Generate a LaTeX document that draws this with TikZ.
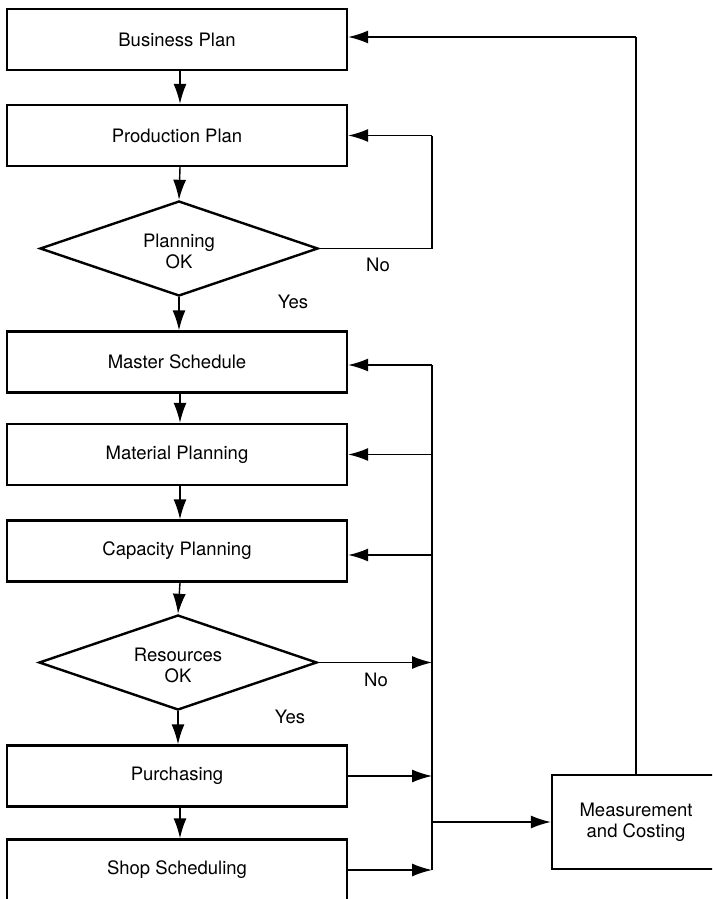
\documentclass[tikz,border=0pt]{standalone}
\usepackage{fontspec}
\setmainfont{TeX Gyre Heros}
\usetikzlibrary{shapes.geometric,arrows.meta}
\begin{document}
\begin{tikzpicture}[x=1pt,y=-1pt,
  font=\fontsize{18.5}{21}\selectfont,
  box/.style={draw, line width=2.4pt, rectangle, minimum width=340pt, minimum height=61pt, inner sep=0pt},
  dia/.style={draw, line width=2.4pt, diamond, minimum width=278pt, minimum height=95pt, inner sep=0pt},
  conn/.style={line width=1.4pt},
  arr/.style={line width=1.4pt, -{Latex[length=20pt,width=13pt]}},
  lbl/.style={inner sep=0pt}]
\useasboundingbox (0,0) rectangle (712,899);
\clip (0,0) rectangle (712,899);
% boxes
\node[box] (bp) at (177,39.5) {Business Plan};
\node[box] (pp) at (177,135.5) {Production Plan};
\node[dia] (d1) at (179,248.5) {};
\node[lbl, align=center] (d1t) at (179,251) {Planning\\OK};
\node[box] (ms) at (177,362) {Master Schedule};
\node[box] (mp) at (177,454.5) {Material Planning};
\node[box] (cp) at (177,551) {Capacity Planning};
\node[dia] (d2) at (178,662.5) {};
\node[lbl, align=center] (d2t) at (178,665) {Resources\\OK};
\node[box] (pu) at (177,776) {Purchasing};
\node[box] (ss) at (177,870) {Shop Scheduling};
\node[draw, line width=2.4pt, minimum width=168pt, minimum height=94pt, inner sep=0pt, align=center] (mc) at (636,822) {Measurement\\and Costing};
% labels
\node[lbl] (no1) at (378,265) {No};
\node[lbl] (yes1) at (293,302) {Yes};
\node[lbl] (no2) at (376,680) {No};
\node[lbl] (yes2) at (290,717) {Yes};
% coordinates
\coordinate (l1a) at (432,248.5);
\coordinate (l1b) at (432,135.5);
\coordinate (bt) at (432,365);
\coordinate (bm) at (432,454.5);
\coordinate (bc) at (432,555);
\coordinate (bd) at (432,662.5);
\coordinate (bpu) at (432,776);
\coordinate (bss) at (432,870);
\coordinate (bmc) at (432,822);
\coordinate (top) at (636,37);
% main flow
\draw[arr] (bp.south -| 180,0) -- (pp.north -| 180,0);
\draw[arr] (pp.south -| 180,0) -- (d1.north);
\draw[arr] (d1.south) -- (ms.north -| d1.south);
\draw[arr] (ms.south -| 180,0) -- (mp.north -| 180,0);
\draw[arr] (mp.south -| 180,0) -- (cp.north -| 180,0);
\draw[arr] (cp.south -| 180,0) -- (d2.north);
\draw[arr] (d2.south) -- (pu.north -| d2.south);
\draw[arr] (pu.south -| 180,0) -- (ss.north -| 180,0);
% first loop
\draw[conn] (d1.east) -- (l1a) -- (l1b);
\draw[arr] (l1b) -- (pp.east);
% bus
\draw[conn] (bt) -- (bss);
\draw[arr] (bt) -- (ms.east |- bt);
\draw[arr] (bm) -- (mp.east);
\draw[arr] (bc) -- (cp.east |- bc);
\draw[arr] (d2.east) -- (bd);
\draw[arr] (pu.east) -- (bpu);
\draw[arr] (ss.east) -- (bss);
\draw[arr] (bmc) -- (mc.west |- bmc);
% return to business plan
\draw[conn] (mc.north -| top) -- (top);
\draw[arr] (top) -- (bp.east |- top);
\end{tikzpicture}
\end{document}
